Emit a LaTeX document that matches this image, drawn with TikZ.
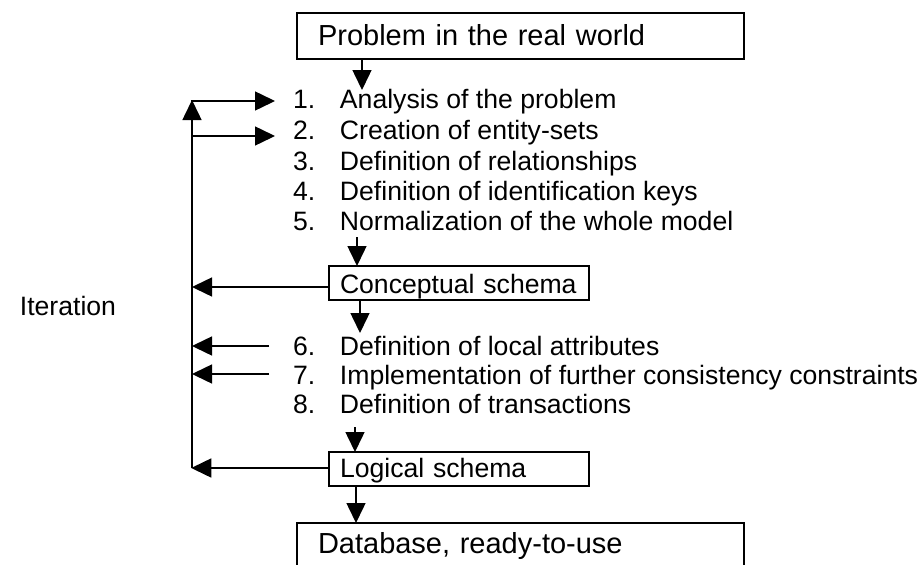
\documentclass[tikz,border=0pt]{standalone}
\usepackage{fontspec}
\setmainfont{Liberation Sans}
\usetikzlibrary{arrows.meta}
\begin{document}
\begin{tikzpicture}[x=1pt,y=-1pt,
  every node/.style={inner sep=0pt, outer sep=0pt},
  lw/.style={line width=1.5pt},
  conn/.style={lw, -{Triangle[length=20pt,width=19pt]}},
  bigbox/.style={draw, lw, anchor=north west, align=left, inner xsep=21pt,
    text width=405pt, text depth=0pt, font=\fontsize{29}{34}\selectfont},
  schemabox/.style={draw, lw, anchor=north west, align=left, inner xsep=11pt,
    text width=238pt, minimum height=34pt, text depth=0pt, font=\fontsize{26.6}{31}\selectfont},
  stepitem/.style={anchor=base west, font=\fontsize{26.6}{31}\selectfont},
]
\useasboundingbox (0,0) rectangle (922,565);

% boxes
\node[bigbox, minimum height=46pt, text height=18pt] (top) at (297,13) {Problem in the real world};
\node[schemabox, text height=20pt] (cs) at (329,266) {Conceptual schema};
\node[schemabox, text height=16pt] (ls) at (329,452) {Logical schema};
\node[bigbox, minimum height=50pt, text height=10pt] (db) at (297,523) {Database, ready-to-use};

% numbered steps
\newcommand{\stepnum}[1]{\makebox[47pt][l]{#1}}
\node[stepitem] (i1) at (293,108) {\stepnum{1.}Analysis of the problem};
\node[stepitem] (i2) at (293,139) {\stepnum{2.}Creation of entity-sets};
\node[stepitem] (i3) at (293,170) {\stepnum{3.}Definition of relationships};
\node[stepitem] (i4) at (293,200) {\stepnum{4.}Definition of identification keys};
\node[stepitem] (i5) at (293,230) {\stepnum{5.}Normalization of the whole model};
\node[stepitem] (i6) at (293,355) {\stepnum{6.}Definition of local attributes};
\node[stepitem] (i7) at (293,384) {\stepnum{7.}Implementation of further consistency constraints};
\node[stepitem] (i8) at (293,413) {\stepnum{8.}Definition of transactions};

\node[stepitem, anchor=base east] (iter) at (116,315) {Iteration};

% main flow
\coordinate (t1) at (362,90);
\draw[conn] (top.south -| t1) -- (t1);
\coordinate (t5) at (357,237);
\draw[conn] (t5) -- (t5 |- cs.north);
\coordinate (t6) at (360,333);
\draw[conn] (cs.south -| t6) -- (t6);
\coordinate (t8) at (355,427);
\draw[conn] (t8) -- (t8 |- ls.north);
\coordinate (tdb) at (356,500);
\draw[conn] (ls.south -| tdb) -- (db.north -| tdb);

% iteration loop
\coordinate (itTop) at (192,100);
\coordinate (itBot) at (192,468);
\draw[conn] (itBot) -- (itTop);
\coordinate (r1) at (191.25,101);
\coordinate (r1tip) at (275,101);
\coordinate (r2) at (192,136);
\coordinate (r2tip) at (275,136);
\draw[conn] (r1) -- (r1tip);
\draw[conn] (r2) -- (r2tip);
\coordinate (l1) at (192,287);
\draw[conn] (cs.west |- l1) -- (l1);
\coordinate (l6) at (269,346);
\draw[conn] (l6) -- (l6 -| itBot);
\coordinate (l7) at (269,374);
\draw[conn] (l7) -- (l7 -| itBot);
\draw[conn] (ls.west |- itBot) -- ([xshift=-0.75pt]itBot);
\end{tikzpicture}
\end{document}
